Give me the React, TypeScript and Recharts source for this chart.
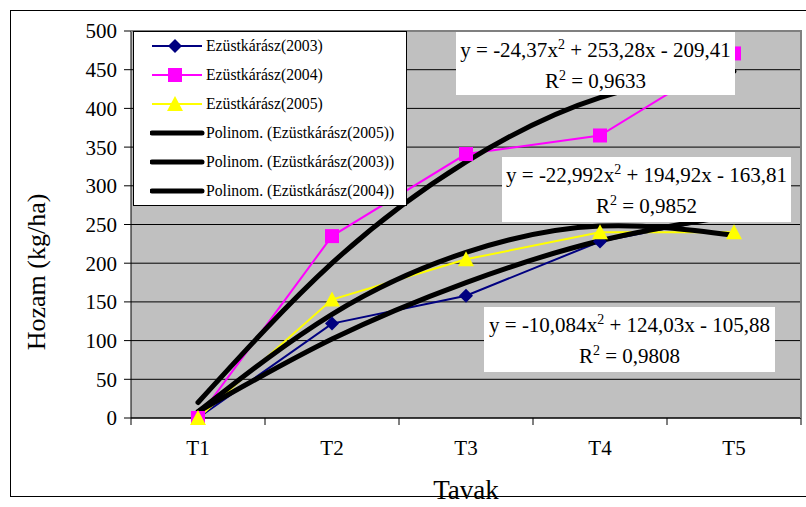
import React from "react";
import { LineChart, Line, XAxis, YAxis, CartesianGrid } from "recharts";

const categories = ["T1", "T2", "T3", "T4", "T5"];
const ezustkarasz2003 = [0, 122, 158, 228, 262];
const ezustkarasz2004 = [0, 235, 341, 365, 471];
const ezustkarasz2005 = [0, 153, 205, 240, 240];

// polynomial trendlines, values
const trend2005 = [8, 134, 214, 248, 236];
const trend2003 = [8, 102, 175, 229, 262];
const trend2004 = [20, 200, 331, 414, 448];

const yTicks = [0, 50, 100, 150, 200, 250, 300, 350, 400, 450, 500];

const equations = [
  { a: "-24,37", b: "253,28", c: "209,41", r2: "0,9633" },
  { a: "-22,992", b: "194,92", c: "163,81", r2: "0,9852" },
  { a: "-10,084", b: "124,03", c: "105,88", r2: "0,9808" },
];

const legendNames = [
  "Ezüstkárász(2003)",
  "Ezüstkárász(2004)",
  "Ezüstkárász(2005)",
  "Polinom. (Ezüstkárász(2005))",
  "Polinom. (Ezüstkárász(2003))",
  "Polinom. (Ezüstkárász(2004))",
];

const data = categories.map((cat, i) => ({
  cat,
  y2003: ezustkarasz2003[i],
  y2004: ezustkarasz2004[i],
  y2005: ezustkarasz2005[i],
  t2005: trend2005[i],
  t2003: trend2003[i],
  t2004: trend2004[i],
}));

const FONT = '"Liberation Serif", "Times New Roman", serif';
const W = 806;
const H = 507;
const PLOT = { left: 131, top: 31, right: 801, bottom: 418 };
const X_AXIS_H = 60;
const HALF_BAND = (PLOT.right - PLOT.left) / categories.length / 2;

const NAVY = "#000080";
const MAGENTA = "#FF00FF";
const YELLOW = "#FFFF00";

const Diamond = ({ cx, cy }: any) =>
  cx == null ? null : (
    <polygon
      points={`${cx},${cy - 7} ${cx + 7},${cy} ${cx},${cy + 7} ${cx - 7},${cy}`}
      fill={NAVY}
    />
  );

const Square = ({ cx, cy }: any) =>
  cx == null ? null : <rect x={cx - 7} y={cy - 7} width={14} height={14} fill={MAGENTA} />;

const Triangle = ({ cx, cy }: any) =>
  cx == null ? null : (
    <polygon points={`${cx},${cy - 8} ${cx + 8},${cy + 7} ${cx - 8},${cy + 7}`} fill={YELLOW} />
  );

const XTick = (props: any) => {
  const { x, payload, index } = props;
  return (
    <g>
      <line x1={x - HALF_BAND} x2={x - HALF_BAND} y1={PLOT.bottom} y2={PLOT.bottom + 7} stroke="#000" />
      {index === categories.length - 1 && (
        <line x1={x + HALF_BAND} x2={x + HALF_BAND} y1={PLOT.bottom} y2={PLOT.bottom + 7} stroke="#000" />
      )}
      <text x={x} y={PLOT.bottom + 37} textAnchor="middle" fontFamily={FONT} fontSize={21} fill="#000">
        {payload.value}
      </text>
    </g>
  );
};

const legendIcons = [
  { color: NAVY, width: 2, marker: <Diamond cx={25} cy={10} /> },
  { color: MAGENTA, width: 2, marker: <Square cx={25} cy={10} /> },
  { color: YELLOW, width: 2, marker: <Triangle cx={25} cy={10} /> },
  { color: "#000", width: 5, marker: null },
  { color: "#000", width: 5, marker: null },
  { color: "#000", width: 5, marker: null },
];

const eqBoxes = [
  { left: 456, top: 32, width: 279, height: 63 },
  { left: 502, top: 157, width: 289, height: 65 },
  { left: 484, top: 307, width: 291, height: 65 },
];

const App: React.FC = () => {
  return (
    <div style={{ position: "absolute", left: 0, top: 0, width: W, height: H, background: "#fff", overflow: "hidden" }}>
      <div
        style={{
          position: "absolute",
          left: 10,
          top: 10,
          width: 820,
          height: 487,
          border: "1px solid #000",
          boxSizing: "border-box",
        }}
      />
      <LineChart
        width={W}
        height={H}
        data={data}
        margin={{ top: PLOT.top, right: W - PLOT.right, left: 0, bottom: H - PLOT.bottom - X_AXIS_H }}
      >
        <CartesianGrid horizontal vertical={false} stroke="#000" fill="#C0C0C0" fillOpacity={1} />
        <XAxis
          dataKey="cat"
          interval={0}
          height={X_AXIS_H}
          padding={{ left: HALF_BAND, right: HALF_BAND }}
          tickLine={false}
          axisLine={{ stroke: "#000" }}
          tick={<XTick />}
          label={{
            value: "Tavak",
            position: "insideBottom",
            offset: 0,
            content: () => (
              <text x={466} y={499} textAnchor="middle" fontFamily={FONT} fontSize={27} fill="#000">
                Tavak
              </text>
            ),
          }}
        />
        <YAxis
          width={PLOT.left}
          domain={[0, 500]}
          ticks={yTicks}
          interval={0}
          tickSize={7}
          tickMargin={7}
          stroke="#000"
          tick={{ fill: "#000", fontSize: 21, fontFamily: FONT }}
          label={{
            value: "Hozam (kg/ha)",
            content: () => (
              <text
                x={45}
                y={272}
                transform="rotate(-90 45 272)"
                textAnchor="middle"
                fontFamily={FONT}
                fontSize={26}
                fill="#000"
              >
                Hozam (kg/ha)
              </text>
            ),
          }}
        />
        <Line dataKey="y2003" stroke={NAVY} strokeWidth={2} type="linear" isAnimationActive={false}
          dot={(p: any) => <Diamond key={`d-${p.index}`} {...p} />} />
        <Line dataKey="y2004" stroke={MAGENTA} strokeWidth={2} type="linear" isAnimationActive={false}
          dot={(p: any) => <Square key={`s-${p.index}`} {...p} />} />
        <Line dataKey="y2005" stroke={YELLOW} strokeWidth={2} type="linear" isAnimationActive={false}
          dot={(p: any) => <Triangle key={`t-${p.index}`} {...p} />} />
        <Line dataKey="t2005" stroke="#000" strokeWidth={5} strokeLinecap="round" type="natural" dot={false} isAnimationActive={false} />
        <Line dataKey="t2003" stroke="#000" strokeWidth={5} strokeLinecap="round" type="natural" dot={false} isAnimationActive={false} />
        <Line dataKey="t2004" stroke="#000" strokeWidth={5} strokeLinecap="round" type="natural" dot={false} isAnimationActive={false} />
      </LineChart>

      {/* plot area border (top / right) */}
      <div
        style={{
          position: "absolute",
          left: PLOT.left,
          top: PLOT.top - 1,
          width: PLOT.right - PLOT.left + 1,
          height: PLOT.bottom - PLOT.top + 1,
          borderTop: "2px solid #808080",
          borderRight: "2px solid #808080",
          boxSizing: "border-box",
          pointerEvents: "none",
        }}
      />

      {/* legend */}
      <div
        style={{
          position: "absolute",
          left: 133,
          top: 31,
          width: 274,
          height: 175,
          border: "1px solid #000",
          background: "#fff",
          boxSizing: "border-box",
          fontFamily: FONT,
          fontSize: 15.7,
        }}
      >
        {legendNames.map((name, i) => (
          <div key={name} style={{ position: "absolute", left: 0, top: 4 + i * 29, height: 20, width: 272 }}>
            <svg width={60} height={20} style={{ position: "absolute", left: 16, top: 0 }}>
              <line x1={2} x2={52} y1={10} y2={10} stroke={legendIcons[i].color} strokeWidth={legendIcons[i].width}
                strokeLinecap={legendIcons[i].width > 2 ? "round" : "butt"} />
              {legendIcons[i].marker}
            </svg>
            <span style={{ position: "absolute", left: 72, top: 0, lineHeight: "20px", whiteSpace: "nowrap" }}>
              {name}
            </span>
          </div>
        ))}
      </div>

      {/* trendline equations */}
      {equations.map((eq, i) => (
        <div
          key={eq.r2}
          style={{
            position: "absolute",
            ...eqBoxes[i],
            background: "#fff",
            fontFamily: FONT,
            fontSize: 21,
            textAlign: "center",
            lineHeight: "31px",
            paddingTop: 3,
            boxSizing: "border-box",
            whiteSpace: "nowrap",
          }}
        >
          <div>
            y = {eq.a}x<sup style={{ fontSize: 14, lineHeight: 0 }}>2</sup> + {eq.b}x - {eq.c}
          </div>
          <div>
            R<sup style={{ fontSize: 14, lineHeight: 0 }}>2</sup> = {eq.r2}
          </div>
        </div>
      ))}
    </div>
  );
};

export default App;
